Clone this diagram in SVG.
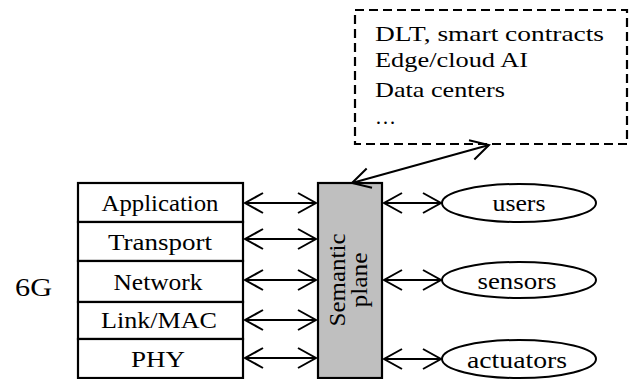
<svg xmlns="http://www.w3.org/2000/svg" width="633" height="379" viewBox="0 0 633 379">
<style>
text{fill:#000}
.t{font-size:24px;text-anchor:middle}
.d{font-size:21px}
.box{fill:#fff;stroke:#000;stroke-width:2.2}
.ell{fill:#fff;stroke:#000;stroke-width:2}
.con{stroke:#000;stroke-width:2;fill:none;marker-start:url(#ah);marker-end:url(#ah)}
</style>
<defs>
<marker id="ah" viewBox="-20 -12 22 24" refX="0" refY="0" markerWidth="22" markerHeight="24" markerUnits="userSpaceOnUse" orient="auto-start-reverse">
<path d="M-18,-10 L0,0 L-18,10" fill="none" stroke="#000" stroke-width="2"/>
</marker>
</defs>
<rect width="633" height="379" fill="#fff"/>
<g id="label-6g"><text x="15" y="296" font-family="Liberation Serif" font-size="26" textLength="37" lengthAdjust="spacingAndGlyphs">6G</text></g>
<g id="stack">
<g id="application"><rect class="box" x="78" y="183" width="165" height="39"/><text class="t" font-family="Liberation Serif" x="160" y="211" textLength="117" lengthAdjust="spacingAndGlyphs">Application</text></g>
<g id="transport"><rect class="box" x="78" y="222" width="165" height="39"/><text class="t" font-family="Liberation Serif" x="160" y="250" textLength="104" lengthAdjust="spacingAndGlyphs">Transport</text></g>
<g id="network"><rect class="box" x="78" y="261" width="165" height="41"/><text class="t" font-family="Liberation Serif" x="158" y="290" textLength="89" lengthAdjust="spacingAndGlyphs">Network</text></g>
<g id="linkmac"><rect class="box" x="78" y="302" width="165" height="37"/><text class="t" font-family="Liberation Serif" x="159" y="328" textLength="116" lengthAdjust="spacingAndGlyphs">Link/MAC</text></g>
<g id="phy"><rect class="box" x="78" y="339" width="165" height="39"/><text class="t" font-family="Liberation Serif" x="158" y="367" textLength="54" lengthAdjust="spacingAndGlyphs">PHY</text></g>
</g>
<g id="semantic-plane"><rect class="box" x="318" y="183" width="64" height="195" style="fill:#bfbfbf"/>
<text class="t" font-family="Liberation Serif" transform="translate(345,280) rotate(-90)" textLength="93" lengthAdjust="spacingAndGlyphs">Semantic</text>
<text class="t" font-family="Liberation Serif" transform="translate(367,280) rotate(-90)" textLength="55" lengthAdjust="spacingAndGlyphs">plane</text></g>
<g id="services"><rect x="355" y="10" width="272" height="134" fill="#fff" stroke="#000" stroke-width="2.2" stroke-dasharray="9 5"/>
<text class="d" font-family="Liberation Serif" x="375" y="41" textLength="229" lengthAdjust="spacingAndGlyphs">DLT, smart contracts</text>
<text class="d" font-family="Liberation Serif" x="375" y="67" textLength="153" lengthAdjust="spacingAndGlyphs">Edge/cloud AI</text>
<text class="d" font-family="Liberation Serif" x="375" y="97" textLength="130" lengthAdjust="spacingAndGlyphs">Data centers</text>
<text class="d" font-family="Liberation Serif" x="375" y="124">…</text></g>
<g id="users"><ellipse class="ell" cx="519" cy="203" rx="77" ry="19"/><text class="t" font-family="Liberation Serif" x="519" y="211" textLength="53" lengthAdjust="spacingAndGlyphs">users</text></g>
<g id="sensors"><ellipse class="ell" cx="519" cy="280" rx="77" ry="18"/><text class="t" font-family="Liberation Serif" x="517" y="289" textLength="79" lengthAdjust="spacingAndGlyphs">sensors</text></g>
<g id="actuators"><ellipse class="ell" cx="519" cy="359" rx="77" ry="19"/><text class="t" font-family="Liberation Serif" x="517" y="368" textLength="100" lengthAdjust="spacingAndGlyphs">actuators</text></g>
<g id="connectors">
<line class="con" x1="245" y1="203" x2="316" y2="203"/>
<line class="con" x1="245" y1="239" x2="316" y2="239"/>
<line class="con" x1="245" y1="280" x2="316" y2="280"/>
<line class="con" x1="245" y1="320" x2="316" y2="320"/>
<line class="con" x1="245" y1="358" x2="316" y2="358"/>
<line class="con" x1="384" y1="203" x2="441" y2="203"/>
<line class="con" x1="384" y1="280" x2="441" y2="280"/>
<line class="con" x1="384" y1="359" x2="441" y2="359"/>
<line class="con" x1="352" y1="183" x2="489" y2="145"/>
</g>
</svg>
